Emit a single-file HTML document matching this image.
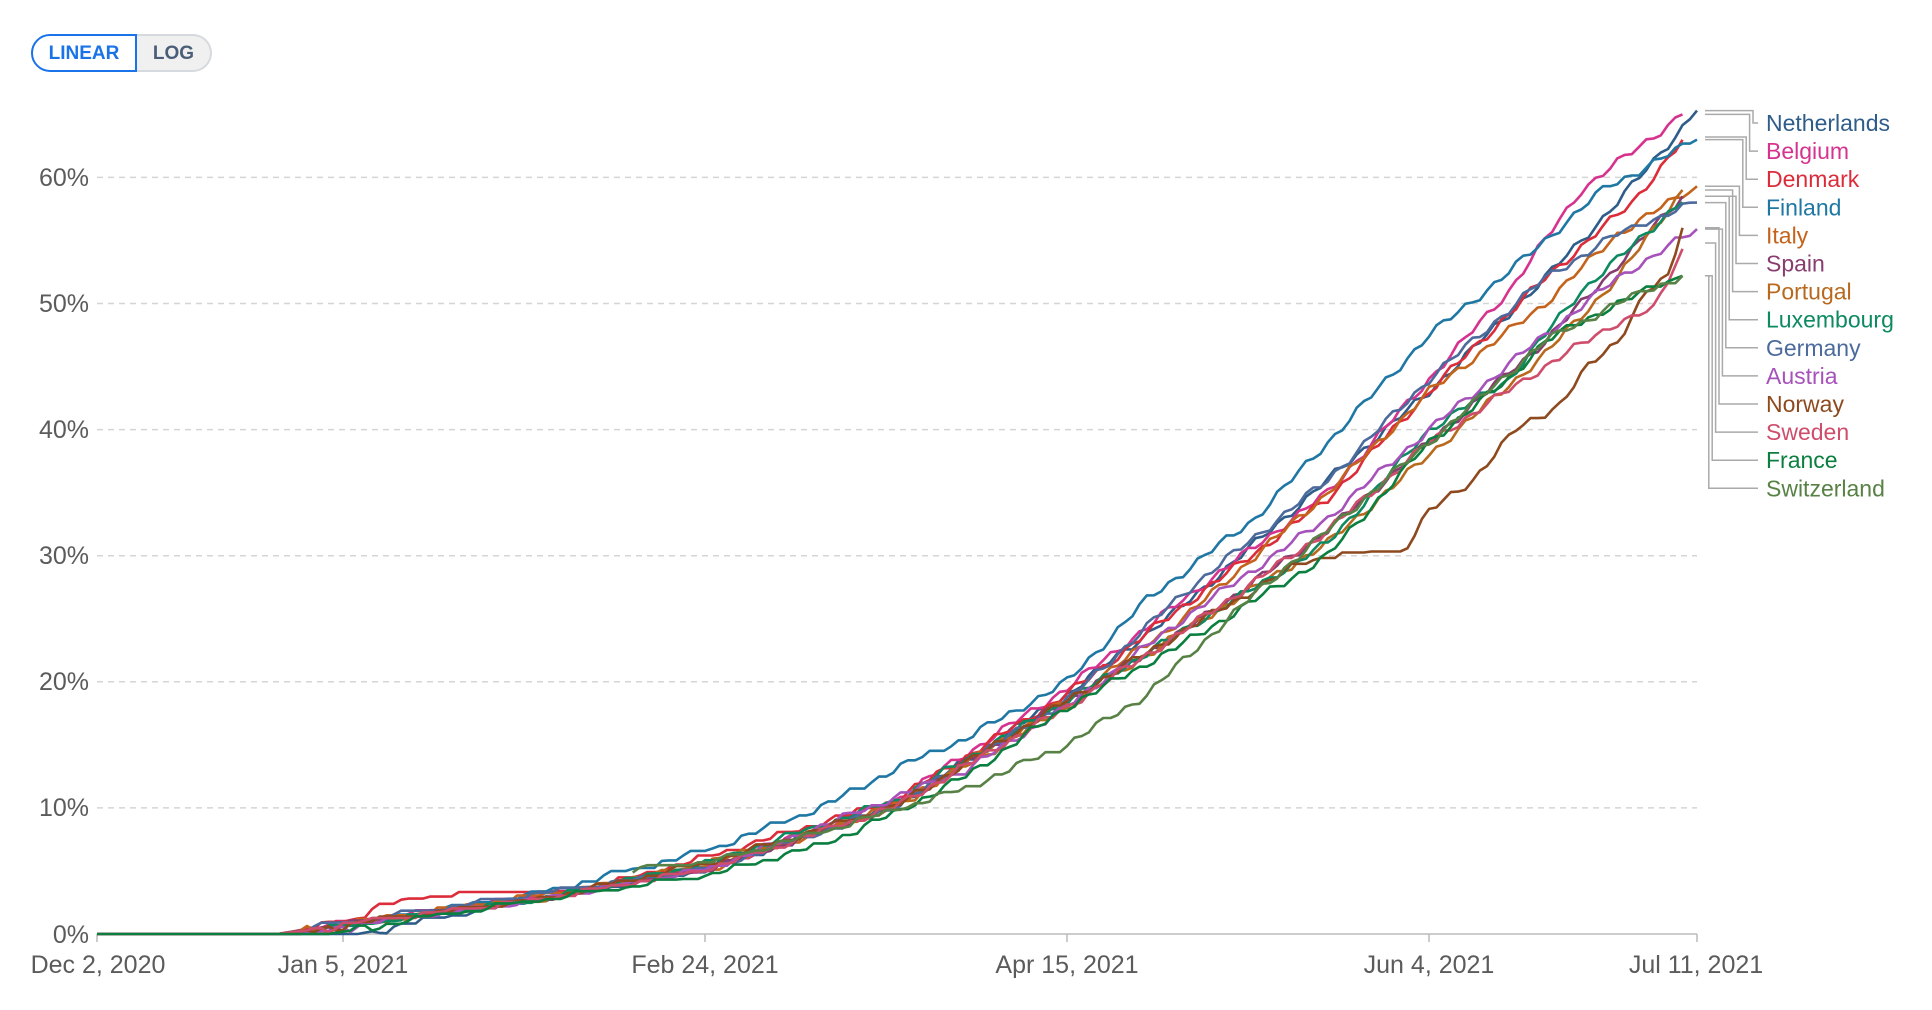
<!DOCTYPE html>
<html><head><meta charset="utf-8">
<style>
html,body{margin:0;padding:0;background:#fff;}
body{width:1932px;height:1010px;overflow:hidden;font-family:"Liberation Sans",sans-serif;position:relative;}
.btn{position:absolute;top:34px;height:38px;box-sizing:border-box;font-weight:bold;font-size:19px;line-height:36px;text-align:center;}
#lin{left:31px;width:106px;border:2px solid #1a73e8;border-radius:19px 0 0 19px;color:#1a73e8;background:#fff;}
#log{left:137px;width:75px;border:2px solid #d6d9de;border-left:none;border-radius:0 19px 19px 0;color:#4a5e78;background:#f0f0f0;}
</style></head><body>
<div class="btn" id="lin">LINEAR</div><div class="btn" id="log">LOG</div>
<svg id="c" width="1932" height="1010" style="position:absolute;left:0;top:0" xmlns="http://www.w3.org/2000/svg">
<g font-family="Liberation Sans, sans-serif" font-size="25" fill="#5b5b5b" text-anchor="end">
<text x="89" y="186">60%</text><text x="89" y="312">50%</text><text x="89" y="438">40%</text>
<text x="89" y="564">30%</text><text x="89" y="690">20%</text><text x="89" y="816">10%</text><text x="89" y="943">0%</text>
</g>
<g stroke="#d5d5d5" stroke-width="1.5" stroke-dasharray="6,5">
<line x1="97" x2="1697" y1="177.4" y2="177.4"/><line x1="97" x2="1697" y1="303.5" y2="303.5"/>
<line x1="97" x2="1697" y1="429.6" y2="429.6"/><line x1="97" x2="1697" y1="555.7" y2="555.7"/>
<line x1="97" x2="1697" y1="681.8" y2="681.8"/><line x1="97" x2="1697" y1="807.9" y2="807.9"/>
</g>
<line x1="97" x2="1697" y1="934" y2="934" stroke="#ccc" stroke-width="2"/>
<g stroke="#bbb" stroke-width="1.5">
<line x1="97" x2="97" y1="934" y2="942"/><line x1="343" x2="343" y1="934" y2="942"/><line x1="705" x2="705" y1="934" y2="942"/>
<line x1="1067" x2="1067" y1="934" y2="942"/><line x1="1429" x2="1429" y1="934" y2="942"/><line x1="1697" x2="1697" y1="934" y2="942"/>
</g>
<g font-family="Liberation Sans, sans-serif" font-size="25" fill="#5b5b5b" text-anchor="middle">
<text x="98" y="973">Dec 2, 2020</text><text x="343" y="973">Jan 5, 2021</text><text x="705" y="973">Feb 24, 2021</text>
<text x="1067" y="973">Apr 15, 2021</text><text x="1429" y="973">Jun 4, 2021</text><text x="1696" y="973">Jul 11, 2021</text>
</g>
<g id="lines" fill="none" stroke-width="2.6" stroke-linejoin="round"></g>
<g id="conn" fill="none" stroke="#aaa" stroke-width="1.5"></g>
<g id="leg" font-family="Liberation Sans, sans-serif" font-size="23"></g>
</svg>
<script>
var S=[
["Netherlands","#2f5d8a",[[0,0],[36,0],[60,2.5],[84,5],[110,10],[134,19],[150,26],[170,36],[184,43],[200,52],[210,58],[221,65.3]]],
["Belgium","#d6338f",[[0,0],[25,0],[50,2],[84,5],[110,10.5],[134,19.5],[150,26.5],[170,35],[184,44],[195,51],[205,59],[212,62],[219,65]]],
["Denmark","#dc2c3a",[[0,0],[25,0],[35,1],[38,2],[47,3],[65,3],[84,6],[110,10.5],[134,19],[150,26],[170,34.5],[184,43],[200,52],[212,58],[219.5,63.2]]],
["Finland","#1f77a4",[[0,0],[28,0],[60,3],[84,6.5],[100,10],[110,13],[120,15.5],[134,20],[145,26.5],[160,33],[170,39],[184,47.5],[194,52],[200,55],[208,59],[221,63]]],
["Italy","#c4631b",[[0,0],[25,0],[50,2],[84,5],[110,10],[134,18.5],[150,25],[170,35],[184,43],[200,50],[210,55.5],[221,59.3]]],
["Spain","#883c6f",[[0,0],[25,0],[60,2.5],[84,5],[110,10],[134,18.5],[150,24],[170,32],[184,39],[200,47],[210,53],[219,58.5]]],
["Portugal","#b8691e",[[0,0],[28,0],[60,2.5],[84,5.5],[110,10],[134,18],[150,24],[170,31],[184,38],[200,46],[210,52],[219,59]]],
["Luxembourg","#0d8a62",[[0,0],[28,0],[60,2.5],[84,5.5],[110,10.5],[134,18.5],[150,24],[170,31],[184,40],[195,44],[205,51],[212,54.5],[219.5,58.5]]],
["Germany","#4c6a9c",[[0,0],[25,0],[60,3],[84,5],[110,10],[134,18.5],[150,27],[170,36],[184,44],[200,52],[210,55.5],[221,58]]],
["Austria","#a652ba",[[0,0],[28,0],[60,2.5],[84,5],[100,8.5],[120,13],[134,18],[150,25],[170,33],[184,40],[200,47.5],[210,52],[221,55.9]]],
["Norway","#8e4a1e",[[0,0],[25,0],[60,2.5],[84,5.5],[110,10],[134,18.5],[150,24],[165,29],[170,30],[180,30],[184,33.5],[190,36],[196,40],[202,42],[206,45],[210,47],[214,51],[217,52],[219,56]]],
["Sweden","#cf4d6b",[[0,0],[25,0],[60,2.5],[84,5],[110,10],[134,18],[150,24],[170,32],[184,39],[200,45],[210,48.5],[215,49.5],[219.5,54.8]]],
["France","#0a7f3f",[[0,0],[32,0],[60,2.5],[84,4.5],[100,7],[110,9.5],[120,12.5],[134,18],[150,23],[170,30],[184,39],[195,44],[200,47],[210,50],[219,52.2]]],
["Switzerland","#578145",[[74,5],[84,5.5],[100,8],[120,11.5],[134,15],[145,19],[160,27],[170,32],[184,39],[200,47],[210,50],[219,52.2]]]
];
function X(d){return 97+d*1600/221;}
function Y(p){return 934-p*12.61;}
function interp(k,d){for(var i=1;i<k.length;i++){if(d<=k[i][0]){var a=k[i-1],b=k[i];return a[1]+(b[1]-a[1])*(d-a[0])/(b[0]-a[0]);}}return k[k.length-1][1];}
var NS="http://www.w3.org/2000/svg",L=document.getElementById("lines"),C=document.getElementById("conn"),G=document.getElementById("leg");
S.forEach(function(s,si){
 var k=s[2],d0=k[0][0],d1=k[k.length-1][0],pts=[],prev=-1;
 for(var d=d0;d<=d1+0.001;d+=1){
  var v=interp(k,Math.min(d,d1));
  if(v>0.3&&d<d1){v+=0.25*Math.sin(d*1.7+si*2.3)+0.15*Math.sin(d*0.6+si);}
  if(v<0)v=0; if(v<prev&&v>0.3)v=prev; prev=v;
  pts.push(X(Math.min(d,d1)).toFixed(1)+","+Y(v).toFixed(1));
 }
 var p=document.createElementNS(NS,"polyline");p.setAttribute("points",pts.join(" "));p.setAttribute("stroke",s[1]);L.appendChild(p);
 var ey=Y(k[k.length-1][1]),ly=123+si*28.1,vx=1753-si*3.4;
 var c=document.createElementNS(NS,"polyline");c.setAttribute("points","1705,"+ey.toFixed(1)+" "+vx+","+ey.toFixed(1)+" "+vx+","+ly+" 1758,"+ly);C.appendChild(c);
 var t=document.createElementNS(NS,"text");t.setAttribute("x","1766");t.setAttribute("y",(ly+8).toFixed(1));t.setAttribute("fill",s[1]);t.textContent=s[0];G.appendChild(t);
});
</script>
</body></html>
